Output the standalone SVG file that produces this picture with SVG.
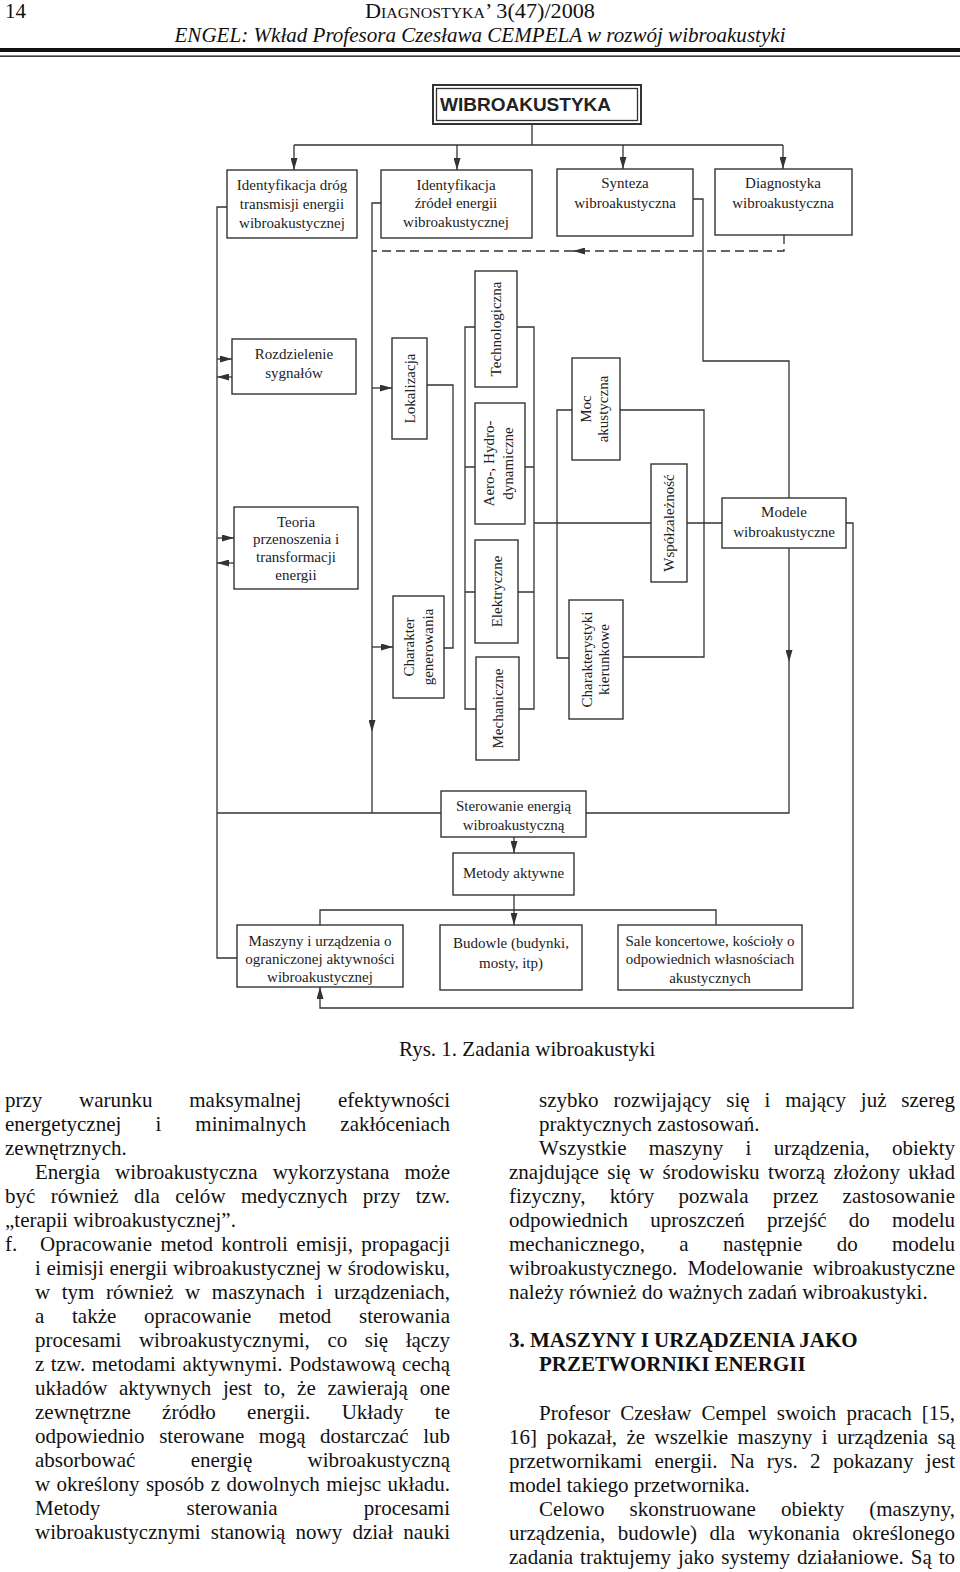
<svg xmlns="http://www.w3.org/2000/svg" width="960" height="1572" viewBox="0 0 960 1572">
<defs>
<marker id="ah" markerWidth="12" markerHeight="7" refX="12" refY="3.5" orient="auto" markerUnits="userSpaceOnUse"><path d="M0,0 L12,3.5 L0,7 z" fill="#333"/></marker>
<style>
.box{fill:#fff;stroke:#333;stroke-width:1.4}
.ln{fill:none;stroke:#333;stroke-width:1.3}
.dash{stroke-dasharray:9 5}
.lbl{font-family:"Liberation Serif","Times New Roman",serif;font-size:15px;fill:#222;text-anchor:middle}
.b{font-family:"Liberation Serif","Times New Roman",serif;font-size:21px;fill:#111}
.bb{font-family:"Liberation Serif","Times New Roman",serif;font-size:21px;font-weight:bold;fill:#111}
</style>
</defs>
<rect width="960" height="1572" fill="#fff"/>
<g id="header">
<text class="b" x="5" y="18">14</text>
<text class="b" x="480" y="18" text-anchor="middle" textLength="230" lengthAdjust="spacingAndGlyphs">D<tspan font-size="15">IAGNOSTYKA</tspan>’ 3(47)/2008</text>
<text class="b" x="480" y="42" text-anchor="middle" font-style="italic" textLength="611" lengthAdjust="spacingAndGlyphs">ENGEL: Wkład Profesora Czesława CEMPELA w rozwój wibroakustyki</text>
<rect x="0" y="48" width="960" height="4" fill="#111"/>
<rect x="0" y="55.5" width="960" height="1.3" fill="#111"/>
</g>
<g id="connectors">
<path class="ln" d="M532,124 V145 M294,145 H783"/>
<path class="ln" d="M294,145 V170" marker-end="url(#ah)"/>
<path class="ln" d="M457,145 V170" marker-end="url(#ah)"/>
<path class="ln" d="M623,145 V169" marker-end="url(#ah)"/>
<path class="ln" d="M783,145 V169" marker-end="url(#ah)"/>
<path class="ln dash" d="M784,235 V251 H573" marker-end="url(#ah)"/>
<path class="ln dash" d="M573,251 H372"/>
<path class="ln" d="M227,207 H217 V958 H237"/>
<path class="ln" d="M217,359 H232" marker-end="url(#ah)"/>
<path class="ln" d="M232,377 H217" marker-end="url(#ah)"/>
<path class="ln" d="M217,538 H234" marker-end="url(#ah)"/>
<path class="ln" d="M234,563 H217" marker-end="url(#ah)"/>
<path class="ln" d="M381,203 H372 V732" marker-end="url(#ah)"/>
<path class="ln" d="M372,732 V813"/>
<path class="ln" d="M372,388 H392" marker-end="url(#ah)"/>
<path class="ln" d="M372,647 H393" marker-end="url(#ah)"/>
<path class="ln" d="M427,385 H453 V648 H444"/>
<path class="ln" d="M475,327 H465 V709 H476 M517,327 H534 V709 H519 M465,467 H475 M525,467 H534 M465,592 H475 M518,592 H534"/>
<path class="ln" d="M534,523 H651 M687,523 H722"/>
<path class="ln" d="M572,410 H557 V658 H569 M620,410 H704 V657 H623"/>
<path class="ln" d="M693,199 H703 V361 H789 V498"/>
<path class="ln" d="M789,548 V662" marker-end="url(#ah)"/>
<path class="ln" d="M789,662 V813 H586"/>
<path class="ln" d="M217,813 H441"/>
<path class="ln" d="M846,523 H853 V1008 H320 V987" marker-end="url(#ah)"/>
<path class="ln" d="M514,837 V853" marker-end="url(#ah)"/>
<path class="ln" d="M514,895 V925" marker-end="url(#ah)"/>
<path class="ln" d="M320,925 V910 H716 V925"/>
</g>
<g id="n-wibroakustyka">
<rect x="433" y="85" width="208" height="39" fill="#fff" stroke="#333" stroke-width="2"/>
<rect x="436.5" y="88.5" width="201" height="32" fill="none" stroke="#333" stroke-width="1.3"/>
<text x="440" y="111" font-family="Liberation Sans, Arial, sans-serif" font-weight="bold" font-size="19" fill="#222">WIBROAKUSTYKA</text>
</g>
<g id="n-drogi">
<rect class="box" x="227" y="170" width="130" height="68"/>
<text class="lbl" font-size="16" x="292" y="190">Identyfikacja dróg</text>
<text class="lbl" font-size="16" x="292" y="209">transmisji energii</text>
<text class="lbl" font-size="16" x="292" y="228">wibroakustycznej</text>
</g>
<g id="n-zrodla">
<rect class="box" x="381" y="170" width="151" height="68"/>
<text class="lbl" x="456" y="190">Identyfikacja</text>
<text class="lbl" x="456" y="208">źródeł energii</text>
<text class="lbl" x="456" y="227">wibroakustycznej</text>
</g>
<g id="n-synteza">
<rect class="box" x="557" y="169" width="136" height="67"/>
<text class="lbl" x="625" y="188">Synteza</text>
<text class="lbl" x="625" y="208">wibroakustyczna</text>
</g>
<g id="n-diagnostyka">
<rect class="box" x="715" y="169" width="137" height="66"/>
<text class="lbl" x="783" y="188">Diagnostyka</text>
<text class="lbl" x="783" y="208">wibroakustyczna</text>
</g>
<g id="n-rozdzielenie">
<rect class="box" x="232" y="339" width="124" height="55"/>
<text class="lbl" x="294" y="359">Rozdzielenie</text>
<text class="lbl" x="294" y="378">sygnałów</text>
</g>
<g id="n-teoria">
<rect class="box" x="234" y="507" width="124" height="82"/>
<text class="lbl" x="296" y="527">Teoria</text>
<text class="lbl" x="296" y="544">przenoszenia i</text>
<text class="lbl" x="296" y="562">transformacji</text>
<text class="lbl" x="296" y="580">energii</text>
</g>
<g id="n-lokalizacja">
<rect class="box" x="392" y="338" width="35" height="101"/>
<text class="lbl" transform="translate(409.5,388.5) rotate(-90)" x="0" y="5">Lokalizacja</text>
</g>
<g id="n-charakter">
<rect class="box" x="393" y="596" width="51" height="102"/>
<g transform="translate(418.5,647) rotate(-90)">
<text class="lbl" x="0" y="-5">Charakter</text>
<text class="lbl" x="0" y="14">generowania</text>
</g>
</g>
<g id="n-technologiczna">
<rect class="box" x="475" y="271" width="42" height="116"/>
<text class="lbl" transform="translate(496,329) rotate(-90)" x="0" y="5">Technologiczna</text>
</g>
<g id="n-aero">
<rect class="box" x="475" y="403" width="50" height="121"/>
<g transform="translate(500,463.5) rotate(-90)">
<text class="lbl" x="0" y="-6">Aero-, Hydro-</text>
<text class="lbl" x="0" y="13">dynamiczne</text>
</g>
</g>
<g id="n-elektryczne">
<rect class="box" x="475" y="540" width="43" height="103"/>
<text class="lbl" transform="translate(496.5,591.5) rotate(-90)" x="0" y="5">Elektryczne</text>
</g>
<g id="n-mechaniczne">
<rect class="box" x="476" y="657" width="43" height="103"/>
<text class="lbl" transform="translate(497.5,708.5) rotate(-90)" x="0" y="5">Mechaniczne</text>
</g>
<g id="n-moc">
<rect class="box" x="572" y="358" width="48" height="102"/>
<g transform="translate(596,409) rotate(-90)">
<text class="lbl" x="0" y="-5">Moc</text>
<text class="lbl" x="0" y="12">akustyczna</text>
</g>
</g>
<g id="n-charakterystyki">
<rect class="box" x="569" y="600" width="54" height="119"/>
<g transform="translate(596,659.5) rotate(-90)">
<text class="lbl" x="0" y="-4">Charakterystyki</text>
<text class="lbl" x="0" y="13">kierunkowe</text>
</g>
</g>
<g id="n-wspolzaleznosc">
<rect class="box" x="651" y="464" width="36" height="118"/>
<text class="lbl" transform="translate(669,523) rotate(-90)" x="0" y="5">Współzależność</text>
</g>
<g id="n-modele">
<rect class="box" x="722" y="498" width="124" height="50"/>
<text class="lbl" x="784" y="517">Modele</text>
<text class="lbl" x="784" y="537">wibroakustyczne</text>
</g>
<g id="n-sterowanie">
<rect class="box" x="441" y="791" width="145" height="46"/>
<text class="lbl" x="513.5" y="811">Sterowanie energią</text>
<text class="lbl" x="513.5" y="830">wibroakustyczną</text>
</g>
<g id="n-metody">
<rect class="box" x="453" y="853" width="121" height="42"/>
<text class="lbl" x="513.5" y="878">Metody aktywne</text>
</g>
<g id="n-maszyny">
<rect class="box" x="237" y="925" width="166" height="62"/>
<text class="lbl" x="320" y="946">Maszyny i urządzenia o</text>
<text class="lbl" x="320" y="964">ograniczonej aktywności</text>
<text class="lbl" x="320" y="982">wibroakustycznej</text>
</g>
<g id="n-budowle">
<rect class="box" x="440" y="925" width="142" height="65"/>
<text class="lbl" font-size="16" x="511" y="948">Budowle (budynki,</text>
<text class="lbl" font-size="16" x="511" y="968">mosty, itp)</text>
</g>
<g id="n-sale">
<rect class="box" x="618" y="925" width="184" height="65"/>
<text class="lbl" x="710" y="946">Sale koncertowe, kościoły o</text>
<text class="lbl" x="710" y="964">odpowiednich własnościach</text>
<text class="lbl" x="710" y="983">akustycznych</text>
</g>
<g id="caption">
<text class="b" x="399" y="1056">Rys. 1. Zadania wibroakustyki</text>
</g>
<g id="col-left" transform="translate(0,3)">
<text class="b" x="5" y="1104" word-spacing="31.5" textLength="445" lengthAdjust="spacing">przy warunku maksymalnej efektywności</text>
<text class="b" x="5" y="1128" word-spacing="28.8" textLength="445" lengthAdjust="spacing">energetycznej i minimalnych zakłóceniach</text>
<text class="b" x="5" y="1152">zewnętrznych.</text>
<text class="b" x="35" y="1176" word-spacing="9.9" textLength="415" lengthAdjust="spacing">Energia wibroakustyczna wykorzystana może</text>
<text class="b" x="5" y="1200" word-spacing="10.1" textLength="445" lengthAdjust="spacing">być również dla celów medycznych przy tzw.</text>
<text class="b" x="5" y="1224">„terapii wibroakustycznej”.</text>
<text class="b" x="5" y="1248">f.</text>
<text class="b" x="40" y="1248" word-spacing="3.2" textLength="410" lengthAdjust="spacing">Opracowanie metod kontroli emisji, propagacji</text>
<text class="b" x="35" y="1272" word-spacing="0.4" textLength="415" lengthAdjust="spacing">i eimisji energii wibroakustycznej w środowisku,</text>
<text class="b" x="35" y="1296" word-spacing="6.3" textLength="415" lengthAdjust="spacing">w tym również w maszynach i urządzeniach,</text>
<text class="b" x="35" y="1320" word-spacing="22.4" textLength="415" lengthAdjust="spacing">a także opracowanie metod sterowania</text>
<text class="b" x="35" y="1344" word-spacing="12.3" textLength="415" lengthAdjust="spacing">procesami wibroakustycznymi, co się łączy</text>
<text class="b" x="35" y="1368" word-spacing="1.2" textLength="415" lengthAdjust="spacing">z tzw. metodami aktywnymi. Podstawową cechą</text>
<text class="b" x="35" y="1392" word-spacing="6.5" textLength="415" lengthAdjust="spacing">układów aktywnych jest to, że zawierają one</text>
<text class="b" x="35" y="1416" word-spacing="26" textLength="415" lengthAdjust="spacing">zewnętrzne źródło energii. Układy te</text>
<text class="b" x="35" y="1440" word-spacing="9.3" textLength="415" lengthAdjust="spacing">odpowiednio sterowane mogą dostarczać lub</text>
<text class="b" x="35" y="1464" word-spacing="50" textLength="415" lengthAdjust="spacing">absorbować energię wibroakustyczną</text>
<text class="b" x="35" y="1488" word-spacing="1.2" textLength="415" lengthAdjust="spacing">w określony sposób z dowolnych miejsc układu.</text>
<text class="b" x="35" y="1512" word-spacing="81" textLength="415" lengthAdjust="spacing">Metody sterowania procesami</text>
<text class="b" x="35" y="1536" word-spacing="4.9" textLength="415" lengthAdjust="spacing">wibroakustycznymi stanowią nowy dział nauki</text>
</g>
<g id="col-right" transform="translate(0,3)">
<text class="b" x="539" y="1104" word-spacing="9.65" textLength="416" lengthAdjust="spacing">szybko rozwijający się i mający już szereg</text>
<text class="b" x="539" y="1128">praktycznych zastosowań.</text>
<text class="b" x="539" y="1152" word-spacing="17" textLength="416" lengthAdjust="spacing">Wszystkie maszyny i urządzenia, obiekty</text>
<text class="b" x="509" y="1176" word-spacing="3.2" textLength="446" lengthAdjust="spacing">znajdujące się w środowisku tworzą złożony układ</text>
<text class="b" x="509" y="1200" word-spacing="18.9" textLength="446" lengthAdjust="spacing">fizyczny, który pozwala przez zastosowanie</text>
<text class="b" x="509" y="1224" word-spacing="17" textLength="446" lengthAdjust="spacing">odpowiednich uproszczeń przejść do modelu</text>
<text class="b" x="509" y="1248" word-spacing="29.1" textLength="446" lengthAdjust="spacing">mechanicznego, a następnie do modelu</text>
<text class="b" x="509" y="1272" word-spacing="4.8" textLength="446" lengthAdjust="spacing">wibroakustycznego. Modelowanie wibroakustyczne</text>
<text class="b" x="509" y="1296">należy również do ważnych zadań wibroakustyki.</text>
<text class="bb" x="509" y="1344">3. MASZYNY I URZĄDZENIA JAKO</text>
<text class="bb" x="539" y="1368">PRZETWORNIKI ENERGII</text>
<text class="b" x="539" y="1417" word-spacing="4.8" textLength="416" lengthAdjust="spacing">Profesor Czesław Cempel swoich pracach [15,</text>
<text class="b" x="509" y="1441" word-spacing="4.2" textLength="446" lengthAdjust="spacing">16] pokazał, że wszelkie maszyny i urządzenia są</text>
<text class="b" x="509" y="1465" word-spacing="7.1" textLength="446" lengthAdjust="spacing">przetwornikami energii. Na rys. 2 pokazany jest</text>
<text class="b" x="509" y="1489">model takiego przetwornika.</text>
<text class="b" x="539" y="1513" word-spacing="19.7" textLength="416" lengthAdjust="spacing">Celowo skonstruowane obiekty (maszyny,</text>
<text class="b" x="509" y="1537" word-spacing="7.25" textLength="446" lengthAdjust="spacing">urządzenia, budowle) dla wykonania określonego</text>
<text class="b" x="509" y="1561" word-spacing="1.7" textLength="446" lengthAdjust="spacing">zadania traktujemy jako systemy działaniowe. Są to</text>
</g>
</svg>
